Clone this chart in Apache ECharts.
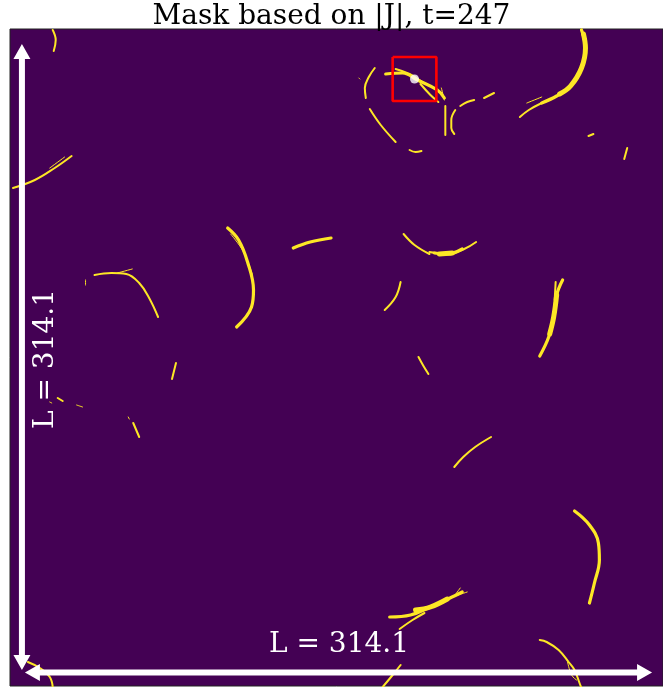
<!DOCTYPE html>
<html>
<head>
<meta charset="utf-8">
<script src="https://cdn.jsdelivr.net/npm/echarts@6/dist/echarts.min.js"></script>
<style>
html,body{margin:0;padding:0;background:#fff;}
#c{width:663px;height:688px;}
</style>
</head>
<body>
<div id="c"></div>
<script>
// ---- data (mask image in grid-cell units, y increases downward) ----
const boxSize = 314.1;          // physical domain length L
const cells = 657;              // mask resolution (cells per side)
const timeStep = 247;
const titleText = 'Mask based on |J|, t=' + timeStep;
const focusPoint = [407, 50];   // tracked point (white dot)
const focusHalf = 22;           // half size of focus window

// yellow mask streaks, grouped by apparent thickness
const streaksThin = [
  [[40,139],[55,128]],
  [[108,244],[123,240]],
  [[76,251],[76,256]],
  [[222,205],[235,223],[244,246]],
  [[67,376],[73,378]],
  [[40,373],[42,374]],
  [[119,388],[120,390]],
  [[434,59],[437,71]],
  [[453,559],[447,567]],
  [[460,563],[448,567]],
  [[561,633],[565,646],[570,651]],
  [[351,49],[352,50]],
  [[535,68],[520,74]]
];
const streaksMed = [
  [[43,1],[46,11],[44,22]],
  [[535,74],[522,81],[513,88]],
  [[582,107],[587,105]],
  [[621,119],[618,130]],
  [[388,40],[402,45],[415,53]],
  [[413,55],[423,66],[431,73]],
  [[367,39],[361,48],[357,59],[358,69]],
  [[362,80],[373,96],[388,113]],
  [[402,121],[408,123],[414,122]],
  [[438,77],[438,91],[438,106]],
  [[448,81],[444,91],[444,99],[447,105]],
  [[453,77],[460,73],[467,71]],
  [[477,69],[487,64]],
  [[3,159],[25,151],[45,139],[62,127]],
  [[85,246],[102,244],[117,245],[130,254],[140,269],[149,288]],
  [[396,205],[407,216],[422,225]],
  [[422,223],[440,225],[457,220],[469,213]],
  [[393,253],[388,268],[377,281]],
  [[411,328],[416,337],[421,345]],
  [[549,253],[548,271]],
  [[167,334],[163,350]],
  [[48,369],[53,372]],
  [[124,394],[130,408]],
  [[484,408],[468,418],[456,428],[447,438]],
  [[392,600],[405,591],[417,584]],
  [[533,611],[540,613],[552,621],[562,633],[568,641],[573,654],[575,659]],
  [[393,636],[385,646],[375,658]],
  [[18,633],[30,639],[40,648],[43,658]]
];
const streaksThick = [
  [[575,1],[579,19],[575,39],[564,57],[550,67],[535,74]],
  [[378,45],[395,44],[410,51],[430,61],[437,69]],
  [[219,199],[230,211],[239,233],[245,261],[243,278],[228,298]],
  [[285,219],[302,213],[323,209]],
  [[427,224],[440,225],[455,220]],
  [[556,251],[550,266],[547,288],[542,308],[533,327]],
  [[568,482],[583,496],[592,514],[593,531],[588,554],[583,574]],
  [[382,588],[403,586],[423,578],[447,567],[455,563]]
];
const streaksHeavy = [
  [[577,5],[579,19],[575,39],[564,57],[553,65]],
  [[408,581],[423,578],[440,570]],
  [[432,225],[445,224]],
  [[550,266],[547,288],[543,305]]
];

const YELLOW = '#fde725';
const PURPLE = '#440154';

function lineGroup(list, width) {
  return list.map(pts => ({
    type: 'line', data: pts, smooth: 0.4, showSymbol: false, silent: true,
    lineStyle: { color: YELLOW, width: width, cap: 'round' },
    animation: false, z: 2
  }));
}

const fx = focusPoint[0], fy = focusPoint[1], fh = focusHalf;
const boxPts = [[fx-fh,fy-fh],[fx+fh,fy-fh],[fx+fh,fy+fh],[fx-fh,fy+fh],[fx-fh,fy-fh]];

const chart = echarts.init(document.getElementById('c'), null, {renderer:'canvas'});
const option = {
  animation: false,
  backgroundColor: '#ffffff',
  title: {
    text: titleText, left: 'center', top: 3, padding: [0, 0, 0, 0],
    textStyle: { fontFamily: 'DejaVu Serif', fontWeight: 'normal', fontSize: 28, color: '#000', lineHeight: 28 }
  },
  grid: { left: 10, top: 29, width: cells, height: cells, show: true,
          backgroundColor: PURPLE, borderColor: '#222', borderWidth: 1 },
  xAxis: { type: 'value', min: 0, max: cells, show: false },
  yAxis: { type: 'value', min: 0, max: cells, inverse: true, show: false },
  series: [
    ...lineGroup(streaksThin, 1),
    ...lineGroup(streaksMed, 2),
    ...lineGroup(streaksThick, 3.2),
    ...lineGroup(streaksHeavy, 5),
    { type: 'line', data: boxPts, showSymbol: false, silent: true, z: 5,
      lineStyle: { color: '#ff0000', width: 2.6 } },
    { type: 'scatter', data: [focusPoint], symbolSize: 9, z: 6,
      itemStyle: { color: '#ffffff' } }
  ]
};
chart.setOption(option);

// arrows and length labels
function arrowPoly(a, b, shaftW, headW, headL) {
  const dx = b[0]-a[0], dy = b[1]-a[1], len = Math.hypot(dx, dy);
  const ux = dx/len, uy = dy/len, nx = -uy, ny = ux;
  const p = (base, t, s) => [base[0] + ux*t + nx*s, base[1] + uy*t + ny*s];
  return [
    p(a,0,0), p(a,headL,headW/2), p(a,headL,shaftW/2),
    p(b,-headL,shaftW/2), p(b,-headL,headW/2), p(b,0,0),
    p(b,-headL,-headW/2), p(b,-headL,-shaftW/2),
    p(a,headL,-shaftW/2), p(a,headL,-headW/2)
  ];
}
const toPx = d => chart.convertToPixel({gridIndex: 0}, d);
const vA = toPx([12, 15]), vB = toPx([12, 641]);
const hA = toPx([15, 643.5]), hB = toPx([646, 643.5]);
const label = 'L = ' + boxSize.toFixed(1);
chart.setOption({
  graphic: [
    { type: 'polygon', shape: { points: arrowPoly(vA, vB, 6, 17, 15) },
      style: { fill: '#ffffff' }, z: 10 },
    { type: 'polygon', shape: { points: arrowPoly(hA, hB, 6, 17, 15) },
      style: { fill: '#ffffff' }, z: 10 },
    { type: 'text', x: 339, y: 645, z: 10,
      style: { text: label, fill: '#ffffff', font: '28px "DejaVu Serif"',
               align: 'center', verticalAlign: 'middle' } },
    { type: 'text', x: 46, y: 359, rotation: Math.PI/2, z: 10,
      style: { text: label, fill: '#ffffff', font: '28px "DejaVu Serif"',
               align: 'center', verticalAlign: 'middle' } }
  ]
});
</script>
</body>
</html>
